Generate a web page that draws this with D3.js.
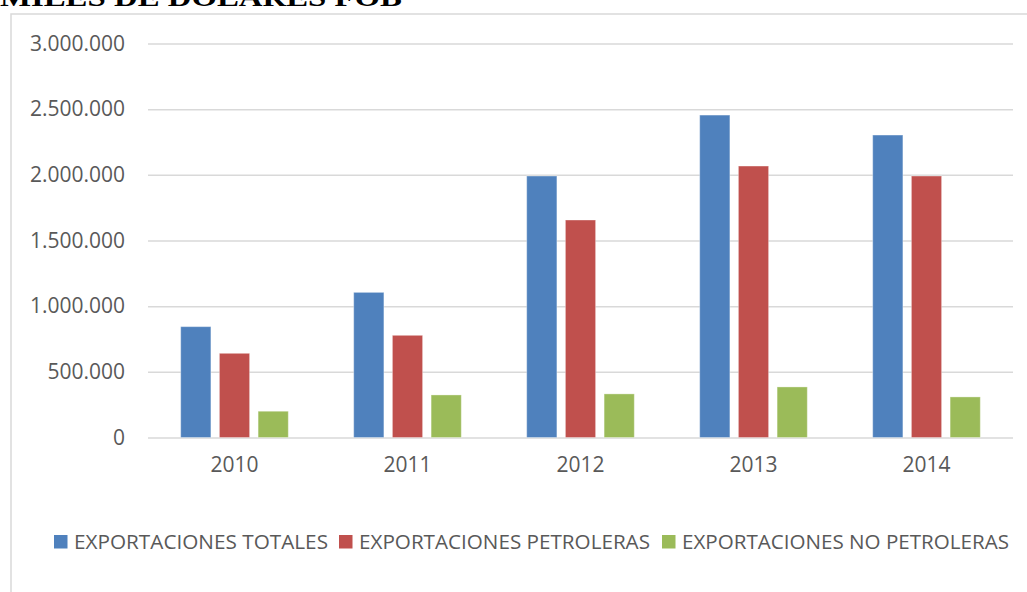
<!DOCTYPE html>
<html><head><meta charset="utf-8">
<script src="https://cdn.jsdelivr.net/npm/d3@7"></script>
<style>html,body{margin:0;padding:0;background:#fff;overflow:hidden}</style>
</head><body>
<svg id="c" width="1027" height="592"></svg>
<script>
const title = "MILES DE DÓLARES FOB";
const categories = ["2010","2011","2012","2013","2014"];
const seriesNames = ["EXPORTACIONES TOTALES","EXPORTACIONES PETROLERAS","EXPORTACIONES NO PETROLERAS"];
const totales = [844000, 1105000, 1991000, 2455000, 2303000];
const petroleras = [641000, 778000, 1656000, 2067000, 1991000];
const noPetroleras = [200000, 324000, 332000, 385000, 309000];
const yTicks = [0, 500000, 1000000, 1500000, 2000000, 2500000, 3000000];
const colors = ["#4f81bd","#c0504d","#9bbb59"];

const values = [totales, petroleras, noPetroleras];
const svg = d3.select("#c");
const font = "'Open Sans', sans-serif";
const txt = "#595959";

// chart border (extends beyond the crop)
svg.append("rect").attr("x",11).attr("y",14).attr("width",1100).attr("height",700)
  .attr("fill","none").attr("stroke","#d9d9d9").attr("stroke-width",1.5);

// title (clipped at top)
svg.append("text").attr("x",0).attr("y",6)
  .attr("font-family","'Liberation Serif', 'Times New Roman', serif")
  .attr("font-weight","bold").attr("font-size",26)
  .attr("textLength",402).attr("lengthAdjust","spacingAndGlyphs")
  .attr("fill","#000").text(title);

const x = d3.scaleBand().domain(categories).range([148, 1013]);
const xs = d3.scaleBand().domain(seriesNames).range([32.7, 140.3]).paddingInner(0.22);
const y = d3.scaleLinear().domain([0, 3000000]).range([437.5, 43.5]);

const loc = d3.formatLocale({decimal:",", thousands:".", grouping:[3], currency:["$",""]});
const fmt = loc.format(",d");

// gridlines
const yAxis = d3.axisLeft(y).tickValues(yTicks).tickSize(-(1013-148)).tickFormat(fmt).tickPadding(23);
const ga = svg.append("g").attr("transform","translate(148,0)").call(yAxis);
ga.select(".domain").remove();
ga.selectAll(".tick line").attr("stroke","#d9d9d9").attr("stroke-width",1.5);
ga.selectAll(".tick text").attr("font-family",font).attr("font-size",21).attr("fill",txt);

// bars
const rows = categories.map((c,i)=>({c, v: seriesNames.map((s,j)=>({s, j, val: values[j][i]}))}));
const groups = svg.append("g").selectAll("g").data(rows).join("g")
  .attr("transform", d=>`translate(${x(d.c)},0)`);
groups.selectAll("rect").data(d=>d.v).join("rect")
  .attr("x", d=>xs(d.s)).attr("width", xs.bandwidth())
  .attr("y", d=>y(d.val)).attr("height", d=>y(0)-y(d.val))
  .attr("fill", d=>colors[d.j])
  .attr("stroke", "rgba(255,255,255,0.35)").attr("stroke-width", 1);

// x axis labels
const xAxis = d3.axisBottom(x).tickSize(0).tickPadding(20);
const gx = svg.append("g").attr("transform","translate(0,437.5)").call(xAxis);
gx.select(".domain").remove();
gx.selectAll(".tick text").attr("font-family",font).attr("font-size",21).attr("fill",txt);

// legend
const legX = [54, 339, 662];
const legW = [254, 291, 327];
const lg = svg.append("g").selectAll("g").data(seriesNames).join("g")
  .attr("transform",(d,i)=>`translate(${legX[i]},535)`);
lg.append("rect").attr("width",13.5).attr("height",13.5).attr("fill",(d,i)=>colors[i]);
lg.append("text").attr("x",20).attr("y",14).attr("font-family",font).attr("font-size",20)
  .attr("fill",txt).attr("textLength",(d,i)=>legW[i]).attr("lengthAdjust","spacingAndGlyphs")
  .text(d=>d);
</script>
</body></html>
